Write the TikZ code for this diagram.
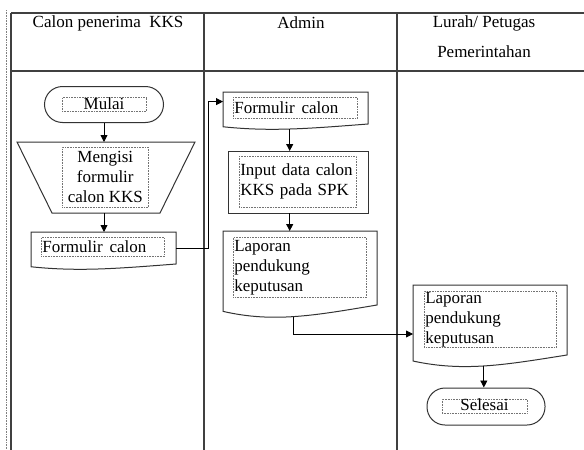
\documentclass[tikz,border=0pt]{standalone}
\usepackage{fontspec}
\setmainfont{Liberation Serif}
\usetikzlibrary{arrows.meta,calc}
\newcommand\docwave[1]{%
  \draw[shp] let \p1=(#1.north west), \p2=(#1.south east), \n1={(\y1-\y2)/0.86} in
    (\p1) -- (\x2,\y1) -- (\p2)
    .. controls ({\x1+0.6*(\x2-\x1)},{\y1-0.98*\n1}) and ({\x1+0.33*(\x2-\x1)},{\y1-1.07*\n1}) ..
    (\x1,{\y1-0.934*\n1}) -- cycle;
  \path let \p1=(#1.north west), \p2=(#1.south east), \n1={(\y1-\y2)/0.86} in
    coordinate (#1-b) at ({\x1+0.46*(\x2-\x1)},{\y1-0.996*\n1});
}
\begin{document}
\begin{tikzpicture}[x=1pt,y=-1pt,
  every node/.style={font=\fontsize{17}{20}\selectfont},
  lane/.style={line width=1.1pt, draw=black!75},
  shp/.style={line width=1pt, draw=black!80},
  area/.style={inner sep=0pt, outer sep=0pt, draw=none, anchor=north west},
  tbox/.style={draw=black!55, densely dotted, line width=0.6pt, inner sep=0pt, anchor=north west},
  term/.style={shp, rectangle, rounded corners=18pt, inner sep=0pt},
  arr/.style={line width=0.9pt, draw=black, -{Triangle[length=7pt,width=7pt]}},
]
\useasboundingbox (0,0) rectangle (584,450);
% page margin marker
\draw[densely dotted, black!50, line width=0.6pt] (6,10) -- (6,450);
% swimlane table
\draw[lane] (11,13) -- (584,13);
\draw[lane] (11,71) -- (584,71);
\draw[lane] (11,13) -- (11,450);
\draw[lane] (204,13) -- (204,450);
\draw[lane] (397,13) -- (397,450);
% headers
\node (h1) at (108,23) {Calon penerima\hspace{0.5em}KKS};
\node (h2) at (301,23) {Admin};
\node (h3) at (484,23) {Lurah/ Petugas};
\node (h4) at (484,52) {Pemerintahan};

% left lane
\node[term, minimum width=119pt, minimum height=36pt] (mulai) at (104,104.5) {};
\node[tbox, anchor=center, minimum width=84pt, minimum height=14pt, text height=11pt, text depth=2pt] (mulai-t) at (mulai) {Mulai};

\node[area, minimum width=108pt, minimum height=71pt] (trap) at (52,142) {};
\draw[shp] (trap.south west) -- ($(trap.north west)+(-35,0)$) -- ($(trap.north east)+(35,0)$) -- (trap.south east) -- cycle;
\node[tbox, minimum width=86pt, minimum height=60pt, align=center] (trap-t) at (62,147) {Mengisi\\formulir\\calon KKS};

\node[area, minimum width=145pt, minimum height=32pt] (f1) at (31,232) {};
\docwave{f1}
\node[tbox, minimum width=123pt, minimum height=19pt, text width=121pt, align=left] (f1-t) at (41,237) {Formulir\hspace{0.4em}calon};

% admin lane
\node[area, minimum width=145pt, minimum height=32pt] (f2) at (223,92) {};
\docwave{f2}
\node[tbox, minimum width=124pt, minimum height=21pt, text width=122pt, align=left] (f2-t) at (233,97) {Formulir\hspace{0.4em}calon};

\node[area, shp, draw, minimum width=140pt, minimum height=62pt] (inp) at (228,151) {};
\node[tbox, minimum width=117pt, minimum height=51pt, text width=115pt, align=left] (inp-t) at (239,156) {Input data calon\\KKS pada SPK};

\node[area, minimum width=154pt, minimum height=74pt] (lap) at (223,231) {};
\docwave{lap}
\node[tbox, minimum width=133pt, minimum height=60pt, text width=131pt, align=left] (lap-t) at (233,237) {Laporan\\pendukung\\keputusan};

% lurah lane
\node[area, minimum width=154pt, minimum height=70pt] (lur) at (413,285) {};
\docwave{lur}
\node[tbox, minimum width=132pt, minimum height=56pt, text width=130pt, align=left] (lur-t) at (424,291) {Laporan\\pendukung\\keputusan};

\node[term, minimum width=118pt, minimum height=37pt] (sel) at (486,406.5) {};
\node[tbox, anchor=center, minimum width=85pt, minimum height=14pt, text height=11pt, text depth=2pt] (sel-t) at (484.5,406) {Selesai};

% connectors
\draw[arr] (mulai.south) -- (mulai.south |- trap.north);
\draw[arr] (mulai.south |- trap.south) -- (mulai.south |- f1.north);
\draw[arr] (f1.east) -- ++(32,0) |- ($(f2.north west)!0.3!(f2.south west)$);
\draw[arr] (f2-b) -- (f2-b |- inp.north);
\draw[arr] (f2-b |- inp.south) -- (f2-b |- lap.north);
\draw[arr] (lap-b) |- ($(lur.north west)!0.7!(lur.south west)$);
\draw[arr] (lur-b) -- (lur-b |- sel.north);
\end{tikzpicture}
\end{document}
